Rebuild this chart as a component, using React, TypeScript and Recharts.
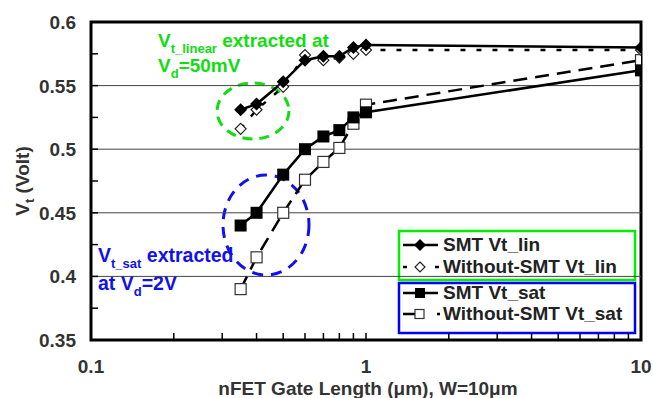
import { ComposedChart, Line, XAxis, YAxis, ReferenceLine, ReferenceArea, Customized } from 'recharts';

// gate lengths (um) and extracted Vt (V)
const gateLengths = [0.35, 0.4, 0.5, 0.6, 0.7, 0.8, 0.9, 1, 10];
const smtVtLin = [0.531, 0.5355, 0.553, 0.570, 0.573, 0.573, 0.580, 0.582, 0.580];
const noSmtVtLin = [0.516, 0.531, 0.549, 0.574, 0.570, 0.572, 0.575, 0.578, 0.578];
const smtVtSat = [0.440, 0.450, 0.480, 0.500, 0.510, 0.515, 0.525, 0.529, 0.562];
const noSmtVtSat = [0.390, 0.415, 0.450, 0.476, 0.490, 0.501, 0.520, 0.535, 0.570];

const xTicks = [0.1, 0.2, 0.3, 0.4, 0.5, 0.6, 0.7, 0.8, 0.9, 1, 2, 3, 4, 5, 6, 7, 8, 9, 10];
const xMajor = [0.1, 1, 10];
const xMajorLabels = ['0.1', '1', '10'];
const yTicks = [0.35, 0.375, 0.4, 0.425, 0.45, 0.475, 0.5, 0.525, 0.55, 0.575, 0.6];
const yMajor = [0.35, 0.4, 0.45, 0.5, 0.55, 0.6];
const yMajorLabels = ['0.35', '0.4', '0.45', '0.5', '0.55', '0.6'];
const yGrid = [0.4, 0.45, 0.5, 0.55];

const data = gateLengths.map((x, i) => ({
  x,
  smtLin: smtVtLin[i],
  noSmtLin: noSmtVtLin[i],
  smtSat: smtVtSat[i],
  noSmtSat: noSmtVtSat[i],
}));

const FONT = '"Liberation Sans", Arial, Helvetica, sans-serif';
const GREEN = '#11dd11';
const BLUE = '#1111ee';
const PLOT_LEFT = 91;
const PLOT_BOTTOM = 340;

const XTick = (props: any) => {
  const { x, payload } = props;
  const idx = xMajor.indexOf(payload.value);
  return (
    <g>
      <line x1={x} x2={x} y1={PLOT_BOTTOM} y2={PLOT_BOTTOM - 7} stroke="#000" strokeWidth={1.5} />
      {idx >= 0 && (
        <text x={x} y={373} textAnchor="middle" fontFamily={FONT} fontWeight="bold" fontSize={19} fill="#333">
          {xMajorLabels[idx]}
        </text>
      )}
    </g>
  );
};

const YTick = (props: any) => {
  const { y, payload } = props;
  const idx = yMajor.indexOf(payload.value);
  return (
    <g>
      <line x1={PLOT_LEFT} x2={PLOT_LEFT + 7} y1={y} y2={y} stroke="#000" strokeWidth={1.5} />
      {idx >= 0 && (
        <text x={76} y={y + 7} textAnchor="end" fontFamily={FONT} fontWeight="bold" fontSize={19} fill="#333">
          {yMajorLabels[idx]}
        </text>
      )}
    </g>
  );
};

const filledDiamond = (p: any) => (
  <polygon
    key={`fd-${p.index}`}
    points={`${p.cx},${p.cy - 6.5} ${p.cx + 6.5},${p.cy} ${p.cx},${p.cy + 6.5} ${p.cx - 6.5},${p.cy}`}
    fill="#000"
  />
);
const openDiamond = (p: any) => (
  <polygon
    key={`od-${p.index}`}
    points={`${p.cx},${p.cy - 5.5} ${p.cx + 5.5},${p.cy} ${p.cx},${p.cy + 5.5} ${p.cx - 5.5},${p.cy}`}
    fill="#fff"
    stroke="#222"
    strokeWidth={1.2}
  />
);
const filledSquare = (p: any) => (
  <rect key={`fs-${p.index}`} x={p.cx - 6} y={p.cy - 6} width={12} height={12} fill="#000" />
);
const openSquare = (p: any) => (
  <rect key={`os-${p.index}`} x={p.cx - 5.5} y={p.cy - 5.5} width={11} height={11} fill="#fff" stroke="#333" strokeWidth={1.2} />
);

const txt = { fontFamily: FONT, fontWeight: 'bold' as const };

const Overlay = () => (
  <g>
    {/* y axis title */}
    <text transform="translate(29,181) rotate(-90)" textAnchor="middle" fontSize={19} fill="#333" {...txt}>
      V<tspan dy={5} fontSize={13}>t</tspan>
      <tspan dy={-5}> (Volt)</tspan>
    </text>
    {/* x axis title */}
    <text x={368} y={395} textAnchor="middle" fontSize={19} fill="#333" {...txt}>
      nFET Gate Length (μm), W=10μm
    </text>

    {/* annotations */}
    <text x={158} y={47} fontSize={19} fill={GREEN} {...txt}>
      V<tspan dy={6} fontSize={13}>t_linear</tspan>
      <tspan dy={-6}> extracted at</tspan>
    </text>
    <text x={158} y={72} fontSize={19} fill={GREEN} {...txt}>
      V<tspan dy={6} fontSize={13}>d</tspan>
      <tspan dy={-6}>=50mV</tspan>
    </text>
    <ellipse cx={253} cy={111} rx={36} ry={28} fill="none" stroke={GREEN} strokeWidth={3} strokeDasharray="10 7" />

    <text x={98} y={262} fontSize={19.5} fill={BLUE} {...txt}>
      V<tspan dy={6} fontSize={13}>t_sat</tspan>
      <tspan dy={-6}> extracted</tspan>
    </text>
    <text x={98} y={290} fontSize={19.5} fill={BLUE} {...txt}>
      at V<tspan dy={6} fontSize={13}>d</tspan>
      <tspan dy={-6}>=2V</tspan>
    </text>
    <ellipse cx={266} cy={225} rx={43} ry={50} fill="none" stroke={BLUE} strokeWidth={3} strokeDasharray="11 8" />

    {/* legend */}
    <rect x={399} y={231} width={236} height={49} fill="#fff" stroke="#00ee00" strokeWidth={2.5} />
    <rect x={399} y={283} width={236} height={50} fill="#fff" stroke="#0000ff" strokeWidth={2.5} />

    <line x1={403} x2={438} y1={245} y2={245} stroke="#000" strokeWidth={2.5} />
    <polygon points="420,239 426,245 420,251 414,245" fill="#000" />
    <text x={443} y={251} fontSize={19} fill="#222" {...txt}>SMT Vt_lin</text>

    <line x1={403} x2={440} y1={267} y2={267} stroke="#000" strokeWidth={2.5} strokeDasharray="4 12" />
    <polygon points="420,262 425,267 420,272 415,267" fill="#fff" stroke="#222" strokeWidth={1.2} />
    <text x={443} y={273} fontSize={19} fill="#222" {...txt}>Without-SMT Vt_lin</text>

    <line x1={403} x2={438} y1={293} y2={293} stroke="#000" strokeWidth={2.5} />
    <rect x={415} y={288} width={10} height={10} fill="#000" />
    <text x={443} y={299} fontSize={19} fill="#222" {...txt}>SMT Vt_sat</text>

    <line x1={403} x2={440} y1={314} y2={314} stroke="#000" strokeWidth={2.5} strokeDasharray="14 20" />
    <rect x={415} y={309.5} width={9} height={9} fill="#fff" stroke="#333" strokeWidth={1.2} />
    <text x={443} y={320} fontSize={19} fill="#222" {...txt}>Without-SMT Vt_sat</text>
  </g>
);

export default function App() {
  return (
    <div style={{ position: 'absolute', left: 0, top: 0, width: 653, height: 398, background: '#fff' }}>
      <ComposedChart width={653} height={398} data={data} margin={{ top: 22, right: 12, bottom: 0, left: 0 }}>
        <XAxis
          dataKey="x"
          type="number"
          scale="log"
          domain={[0.1, 10]}
          ticks={xTicks}
          interval={0}
          allowDataOverflow
          height={58}
          axisLine={false}
          tickLine={false}
          tick={<XTick />}
        />
        <YAxis
          type="number"
          domain={[0.35, 0.6]}
          ticks={yTicks}
          interval={0}
          allowDataOverflow
          width={91}
          axisLine={false}
          tickLine={false}
          tick={<YTick />}
        />
        {yGrid.map((v) => (
          <ReferenceLine key={v} y={v} stroke="#444" strokeWidth={1} />
        ))}
        <ReferenceArea x1={0.1} x2={10} y1={0.35} y2={0.6} fill="none" stroke="#000" strokeWidth={3} />
        <Line
          dataKey="noSmtSat"
          name="Without-SMT Vt_sat"
          stroke="#000"
          strokeWidth={2.5}
          strokeDasharray="14 8"
          dot={openSquare}
          isAnimationActive={false}
        />
        <Line
          dataKey="smtSat"
          name="SMT Vt_sat"
          stroke="#000"
          strokeWidth={2.5}
          dot={filledSquare}
          isAnimationActive={false}
        />
        <Line
          dataKey="noSmtLin"
          name="Without-SMT Vt_lin"
          stroke="#000"
          strokeWidth={2.5}
          strokeDasharray="5 11"
          dot={openDiamond}
          isAnimationActive={false}
        />
        <Line
          dataKey="smtLin"
          name="SMT Vt_lin"
          stroke="#000"
          strokeWidth={2.5}
          dot={filledDiamond}
          isAnimationActive={false}
        />
        <Customized component={Overlay} />
      </ComposedChart>
    </div>
  );
}
